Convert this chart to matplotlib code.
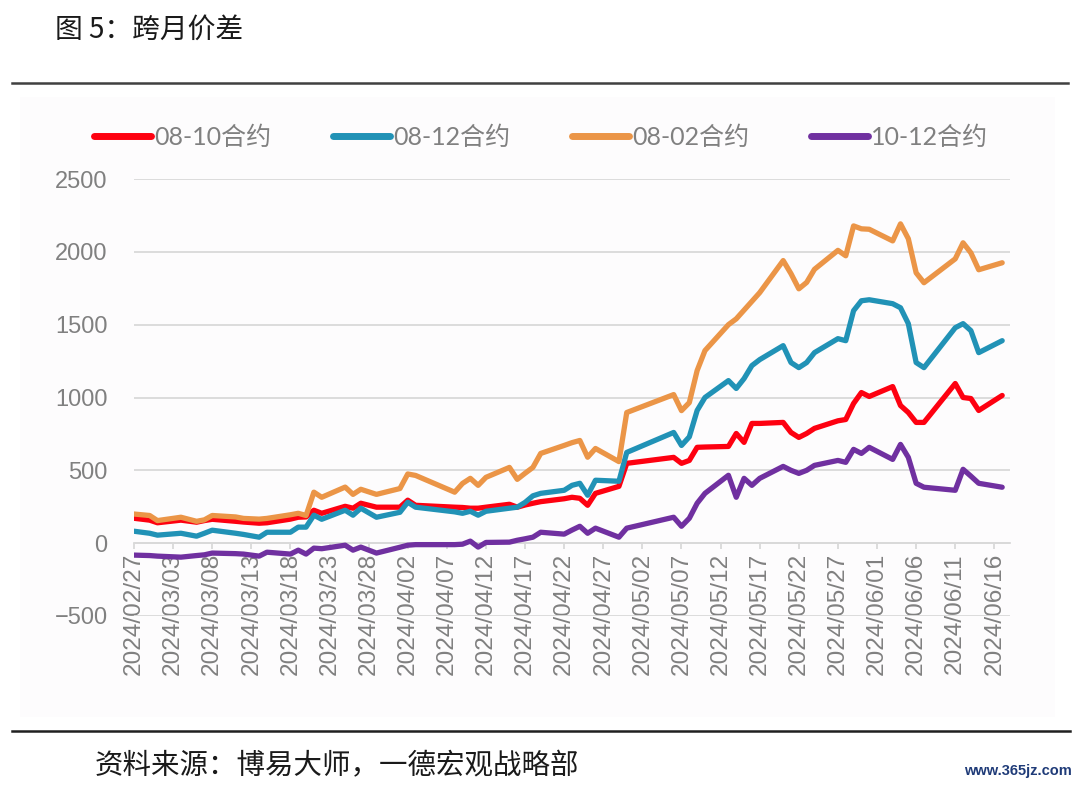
import pandas as pd
import matplotlib.pyplot as plt
import matplotlib.dates as mdates
from matplotlib.patches import Rectangle
from matplotlib.lines import Line2D

plt.rcParams['font.family'] = ['Liberation Sans', 'Noto Sans CJK SC', 'DejaVu Sans']

dates = ['02-27', '02-29', '03-01', '03-04', '03-06', '03-07', '03-08', '03-11', '03-12', '03-14',
         '03-15', '03-18', '03-19', '03-20', '03-21', '03-22', '03-25', '03-26', '03-27', '03-29',
         '04-01', '04-02', '04-03', '04-08', '04-09', '04-10', '04-11', '04-12', '04-15', '04-16',
         '04-17', '04-18', '04-19', '04-22', '04-23', '04-24', '04-25', '04-26', '04-29', '04-30',
         '05-06', '05-07', '05-08', '05-09', '05-10', '05-13', '05-14', '05-15', '05-16', '05-17',
         '05-20', '05-21', '05-22', '05-23', '05-24', '05-27', '05-28', '05-29', '05-30', '05-31',
         '06-03', '06-04', '06-05', '06-06', '06-07', '06-11', '06-12', '06-13', '06-14', '06-17']

s_08_10 = [171, 158, 140, 158, 144, 155, 164, 150, 145, 137,
           140, 165, 178, 180, 226, 205, 253, 240, 274, 247,
           247, 295, 260, 247, 245, 240, 240, 247, 267, 247,
           262, 274, 285, 305, 315, 308, 260, 342, 390, 548,
           589, 548, 568, 658, 660, 664, 753, 692, 822, 822,
           829, 760, 726, 753, 788, 840, 849, 959, 1034, 1007,
           1075, 945, 897, 829, 829, 1096, 1000, 993, 911, 1014]

s_08_12 = [82, 68, 55, 68, 48, 68, 89, 68, 60, 41,
           75, 75, 110, 110, 192, 164, 226, 192, 240, 178,
           212, 281, 247, 215, 205, 219, 192, 219, 240, 247,
           280, 325, 342, 363, 397, 411, 329, 432, 425, 623,
           760, 671, 730, 911, 1000, 1116, 1062, 1130, 1219, 1260,
           1356, 1240, 1205, 1240, 1308, 1404, 1390, 1596, 1664, 1671,
           1644, 1616, 1507, 1240, 1205, 1479, 1507, 1459, 1308, 1390]

s_08_02 = [200, 190, 155, 178, 150, 160, 190, 180, 170, 165,
           170, 195, 205, 190, 350, 315, 385, 335, 370, 335,
           375, 475, 465, 350, 410, 445, 397, 452, 520, 438,
           480, 520, 616, 671, 690, 705, 590, 650, 560, 897,
           1020, 910, 965, 1185, 1322, 1500, 1540, 1600, 1660, 1720,
           1940, 1850, 1746, 1790, 1880, 2010, 1973, 2178, 2158, 2155,
           2075, 2192, 2090, 1856, 1788, 1952, 2062, 1993, 1877, 1925]

s_10_12 = [-82, -85, -89, -96, -85, -80, -68, -72, -75, -89,
           -62, -75, -48, -75, -34, -38, -14, -48, -27, -68,
           -28, -14, -10, -10, -7, 14, -27, 5, 7, 20,
           30, 41, 75, 62, 90, 116, 68, 103, 41, 103,
           178, 116, 171, 274, 342, 466, 315, 445, 397, 445,
           527, 500, 479, 500, 534, 568, 555, 644, 616, 658,
           575, 678, 589, 411, 384, 363, 507, 460, 411, 384]

labels = ['08-10合约', '08-12合约', '08-02合约', '10-12合约']
colors = ['#fe0010', '#2192b6', '#eb9547', '#7030a0']

x = pd.to_datetime(['2024-' + d for d in dates])

fig = plt.figure(figsize=(10.8, 7.86), dpi=100)

# light panel behind the chart
fig.patches.append(Rectangle((20 / 1080, 1 - 717 / 786), 1035 / 1080, 620 / 786,
                             transform=fig.transFigure, facecolor='#fdfcfd', edgecolor='none', zorder=-5))

ax = fig.add_axes([134 / 1080, 1 - 616 / 786, 876 / 1080, 437 / 786])
ax.set_facecolor('none')

for ys, c, lab in zip([s_08_10, s_08_12, s_08_02, s_10_12], colors, labels):
    ax.plot(x, ys, color=c, lw=3.8, label=lab, solid_joinstyle='round', solid_capstyle='round', zorder=3)

ax.set_ylim(-500, 2500)
ax.set_yticks(range(-500, 2501, 500))
ax.set_xlim(pd.Timestamp('2024-02-27'), pd.Timestamp('2024-06-18'))
ax.set_xticks(pd.date_range('2024-02-27', '2024-06-16', freq='5D'))
ax.xaxis.set_major_formatter(mdates.DateFormatter('%Y/%m/%d'))

ax.yaxis.grid(True, color='#d9d9d9', lw=1.3)
ax.set_axisbelow(True)
for side in ['left', 'right', 'top']:
    ax.spines[side].set_visible(False)
ax.spines['bottom'].set_position(('data', 0))
ax.spines['bottom'].set_color('#d9d9d9')
ax.spines['bottom'].set_linewidth(1.3)
ax.tick_params(axis='x', colors='#d9d9d9', length=4, width=1.3, labelcolor='#808080',
               labelsize=17.6, labelrotation=90, pad=3)
ax.tick_params(axis='y', length=0, labelcolor='#808080', labelsize=17, pad=19)

handles = [Line2D([0], [0], color=c, lw=5, solid_capstyle='round') for c in colors]
fig.legend(handles, labels, loc='center', bbox_to_anchor=(0.501, 1 - 137 / 786), ncol=4,
           frameon=False, handlelength=2.3, handletextpad=0.12, columnspacing=2.45,
           labelcolor='#808080', prop={'family': ['Lato', 'Noto Sans CJK SC'], 'size': 18})

# header and footer
fig.text(55 / 1080, 1 - 30 / 786, '图 5：跨月价差', fontsize=20, color='#1a1a1a',
         family=['Noto Sans CJK SC'], va='center', ha='left')
fig.add_artist(Line2D([12 / 1080, 1068 / 1080], [1 - 83 / 786] * 2, color='#404040', lw=1.8,
                      transform=fig.transFigure))
fig.add_artist(Line2D([12 / 1080, 1070 / 1080], [1 - 731 / 786] * 2, color='#202020', lw=1.8,
                      transform=fig.transFigure))
fig.text(95 / 1080, 1 - 766 / 786, '资料来源：博易大师，一德宏观战略部', fontsize=20.5, color='#1a1a1a',
         family=['Noto Sans CJK SC'], va='center', ha='left')
fig.text(1072 / 1080, 1 - 771 / 786, 'www.365jz.com', fontsize=10.5, color='#1f3b78',
         fontweight='bold', va='center', ha='right')

fig.savefig('out.png', dpi=100)
